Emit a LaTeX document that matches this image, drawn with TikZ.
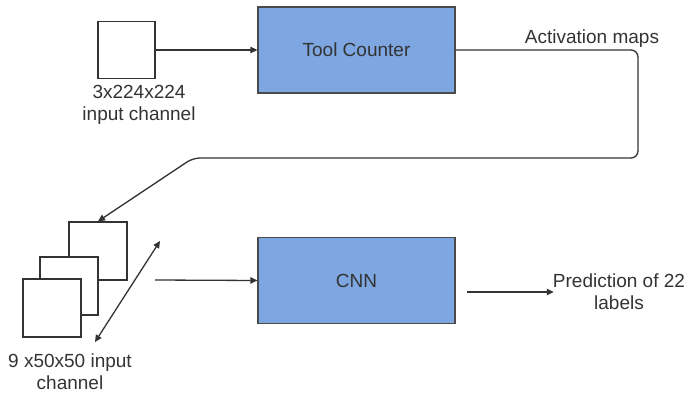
\documentclass[tikz,border=0pt]{standalone}
\usepackage{fontspec}
\setmainfont{Liberation Sans}
\usetikzlibrary{arrows.meta}
\definecolor{boxfill}{HTML}{7EA6E0}
\definecolor{boxline}{HTML}{4A4A4A}
\definecolor{inkline}{HTML}{333333}
\begin{document}
\begin{tikzpicture}[x=1pt,y=-1pt,
  every node/.style={font=\fontsize{19pt}{22pt}\selectfont, text=inkline},
  block/.style={draw=boxline, line width=1.3pt, fill=boxfill, minimum width=197pt, minimum height=86pt, inner sep=0pt},
  plane/.style={draw=inkline, line width=1.3pt, fill=white, minimum width=58pt, minimum height=58pt, inner sep=0pt},
  caption/.style={align=center, inner sep=0pt},
  conn/.style={draw=inkline, line width=1.3pt, -{Triangle[length=7pt,width=6.5pt]}},
  conn2/.style={draw=inkline, line width=1.3pt, {Triangle[length=7pt,width=6.5pt]}-{Triangle[length=7pt,width=6.5pt]}}]
\useasboundingbox (0,0) rectangle (689,396);

% input image and feature extractor
\node[plane, minimum width=57pt, minimum height=57pt] (img) at (126.5,50) {};
\node[caption] (imgcap) at (139,105) {3x224x224\\input channel};
\node[block] (tool) at (356.5,50) {Tool Counter};
\draw[conn] (img.east) -- (tool.west);

% stacked activation maps
\node[plane] (s3) at (98,251) {};
\node[plane] (s2) at (69,286) {};
\node[plane] (s1) at (52,308) {};
\node[caption] (stackcap) at (70,372) {9 x50x50 input\\channel};
\coordinate (da1) at (95,342);
\coordinate (da2) at (160,241);
\draw[conn2] (da1) -- (da2);

% feedback path from the counter to the maps
\draw[conn, rounded corners=7pt] (tool.east) -- (638,50) -- (638,158) -- (193,158) -- (s3.north);
\node[inner sep=0pt] (actlbl) at (592,39) {Activation maps};

% classifier
\node[block] (cnn) at (356.5,280.5) {CNN};
\coordinate (stackout) at (155,280);
\draw[conn] (stackout) -- (cnn.west);
\node[caption] (pred) at (619,292) {Prediction of 22\\labels};
\draw[conn, shorten <=11pt, shorten >=-1pt] (cnn.east |- pred.west) -- (pred.west);
\end{tikzpicture}
\end{document}
